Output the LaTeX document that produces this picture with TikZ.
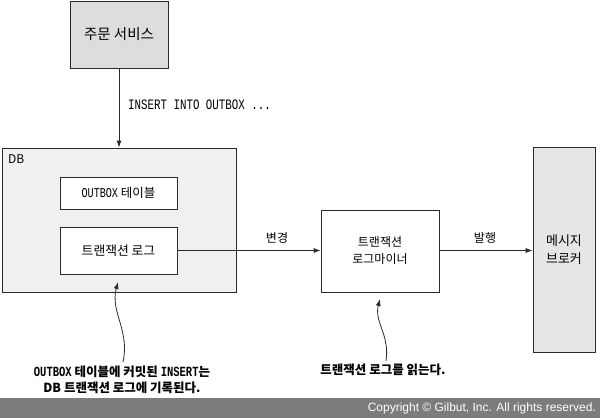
\documentclass[tikz,border=0pt]{standalone}
\usepackage{fontspec}
\setmainfont{Noto Sans CJK KR}
\newfontfamily\nmono[FakeStretch=0.75]{Liberation Mono}
\newfontfamily\copyfont{Liberation Sans}
\usetikzlibrary{arrows.meta}
\definecolor{linec}{HTML}{2A2A2A}
\definecolor{svcfill}{HTML}{DDDDDD}
\definecolor{dbfill}{HTML}{F0F0F0}
\definecolor{brokerfill}{HTML}{E6E6E6}
\definecolor{barfill}{HTML}{7C7C7C}
\tikzset{
  box/.style={draw=linec, line width=0.8pt, rectangle, inner sep=0pt, align=center, font=\fontsize{12}{17}\selectfont},
  conn/.style={draw=linec, line width=0.8pt, -{Latex[length=7pt,width=5pt]}},
  lbl/.style={inner sep=0pt, font=\fontsize{12}{16}\selectfont},
  note/.style={inner sep=0pt, align=center, font=\bfseries\fontsize{12.5}{16}\selectfont},
}
\begin{document}
\begin{tikzpicture}[x=1pt,y=-1pt]
\useasboundingbox (0,0) rectangle (600,418);
% copyright bar
\fill[barfill] (0,398) rectangle (600,418);
\node[anchor=east, inner sep=0pt, text=white, font=\copyfont\fontsize{12}{14}\selectfont] (copy) at (596,408.5) {Copyright \textcopyright{} Gilbut, Inc. All rights reserved.};
% boxes
\node[box, fill=svcfill, minimum width=98, minimum height=67, font=\fontsize{14.5}{17}\selectfont] (svc) at (119,34.5) {주문 서비스};
\node[box, fill=dbfill, minimum width=234, minimum height=144] (db) at (119,220) {};
\node[anchor=north west, inner sep=0pt, font=\fontsize{12}{14}\selectfont] (dblbl) at (8,155) {DB};
\node[box, fill=white, minimum width=117, minimum height=32, font=\fontsize{12.5}{17}\selectfont] (outbox) at (118.5,193) {{\nmono\fontsize{13.5}{16}\selectfont OUTBOX} 테이블};
\node[box, fill=white, minimum width=117, minimum height=47, font=\fontsize{12.8}{17}\selectfont] (txlog) at (118.5,250.5) {트랜잭션 로그};
\node[box, fill=white, minimum width=118, minimum height=82] (miner) at (380,251) {트랜잭션\\로그마이너};
\node[box, fill=brokerfill, minimum width=62, minimum height=205, font=\fontsize{13}{18}\selectfont] (broker) at (564,249.5) {메시지\\브로커};
% connectors
\draw[conn] (svc.south) -- (db.north);
\node[anchor=west, inner sep=0pt, font=\nmono\fontsize{14.4}{16}\selectfont] (ins) at (128,105) {INSERT INTO OUTBOX ...};
\draw[conn] (txlog.east) -- (txlog.east -| miner.west);
\node[lbl] (chg) at (277,238) {변경};
\draw[conn] (miner.east |- txlog.east) -- (txlog.east -| broker.west);
\node[lbl] (pub) at (485,238) {발행};
% annotations
\node[note] (note1) at (122,380) {{\nmono\fontsize{14}{16}\selectfont OUTBOX} 테이블에 커밋된 {\nmono\fontsize{14}{16}\selectfont INSERT}는\\DB 트랜잭션 로그에 기록된다.};
\coordinate (n1s) at (123,362);
\coordinate (n1e) at (118,282);
\draw[conn] (n1s) .. controls (130,330) and (110,312) .. (n1e);
\node[note] (note2) at (383,370) {트랜잭션 로그를 읽는다.};
\coordinate (n2s) at (386,361);
\coordinate (n2e) at (380,299);
\draw[conn] (n2s) .. controls (390,335) and (374,322) .. (n2e);
\end{tikzpicture}
\end{document}
